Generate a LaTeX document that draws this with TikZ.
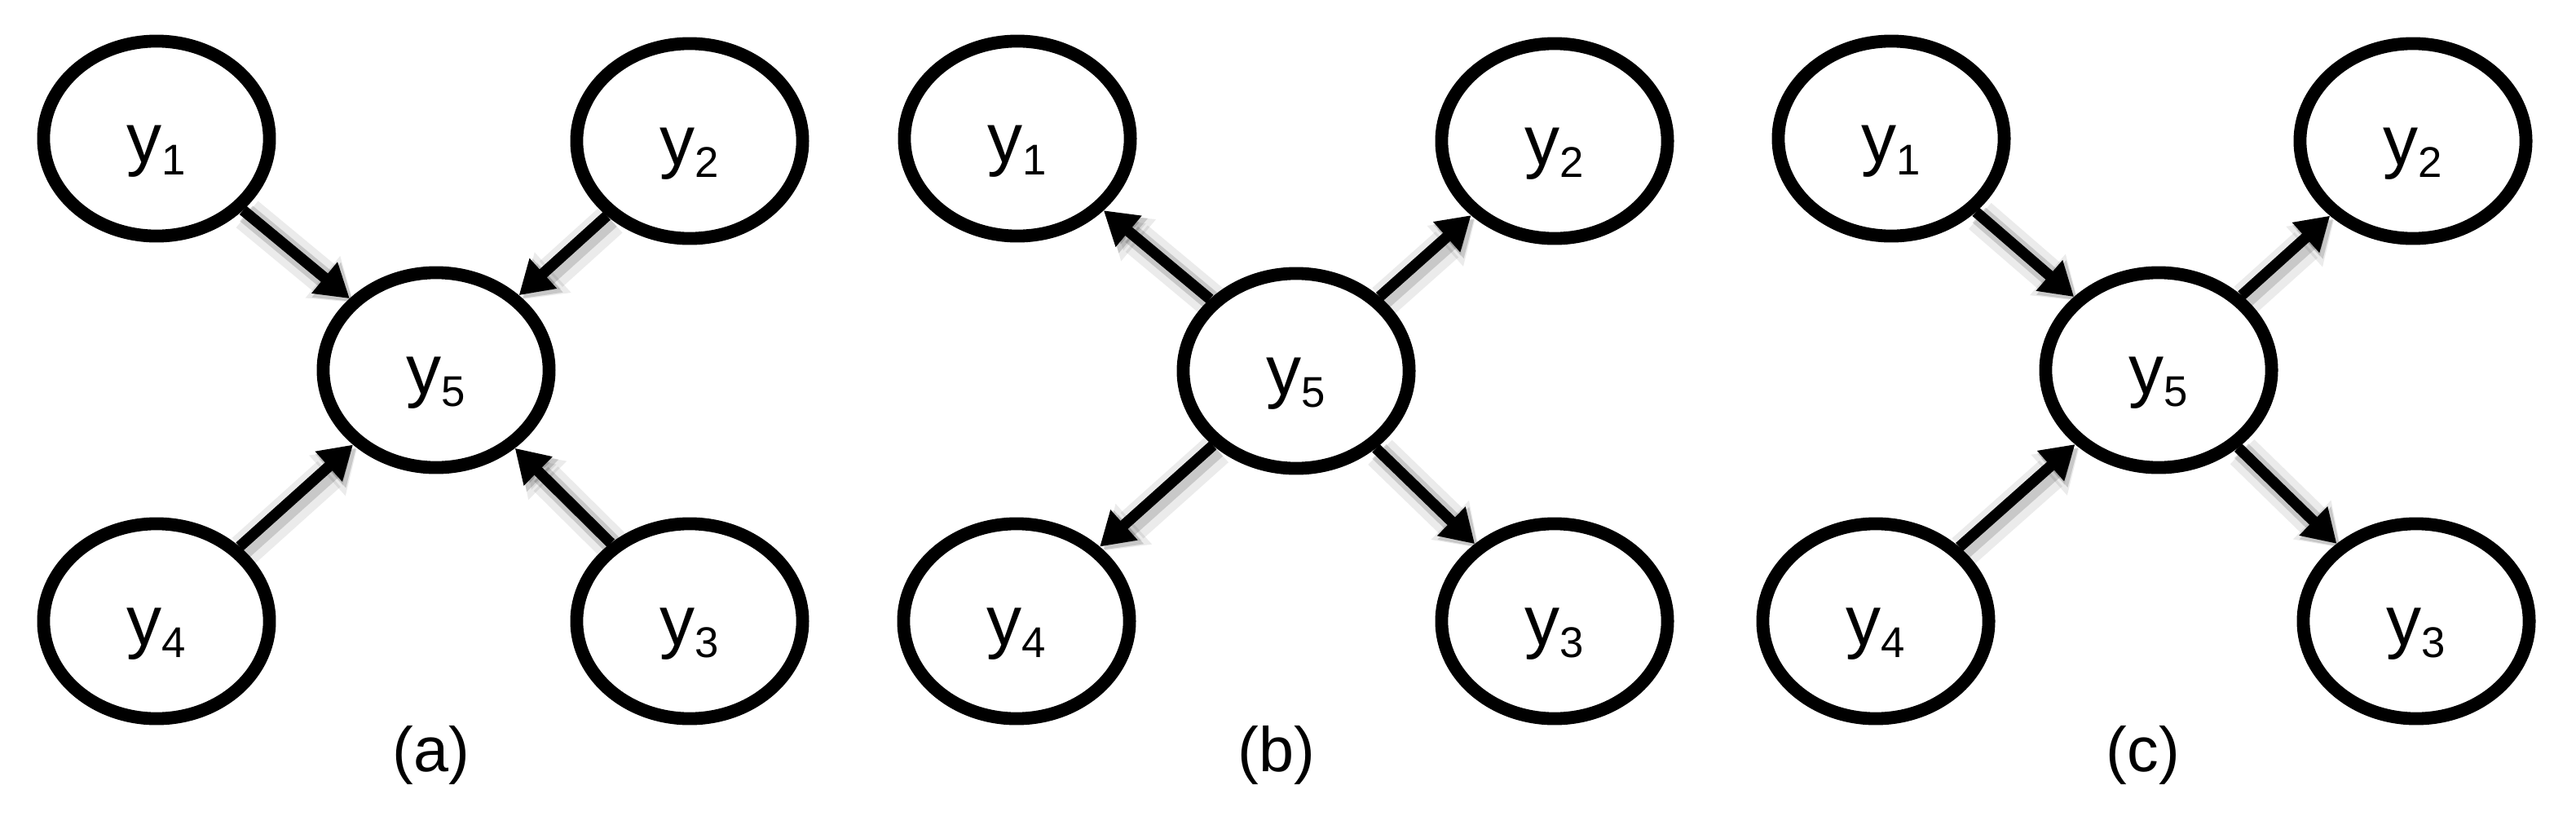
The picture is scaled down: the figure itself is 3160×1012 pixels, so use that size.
\documentclass[tikz,border=0pt]{standalone}
\usepackage{fontspec}
\setmainfont{Liberation Sans}
\usetikzlibrary{shapes.geometric,arrows.meta}
\newcommand{\yv}[1]{y\raisebox{-0.15cm}{\fontsize{15}{18}\selectfont #1}}
\tikzset{
  var/.style={ellipse, draw, line width=4.5pt, inner sep=0pt,
    minimum width=2.77cm, minimum height=2.39cm,
    font=\fontsize{24.5}{28}\selectfont, text height=0.76cm, text depth=0.18cm},
  arr/.style={line width=3.8pt, -{Triangle[length=11.4pt,width=13.4pt]},
    preaction={draw=black, opacity=0.08, line width=12pt, -{Triangle[length=14pt,width=18pt]},
      transform canvas={shift={(0.05cm,-0.05cm)}}},
    preaction={draw=black, opacity=0.15, line width=7pt, -{Triangle[length=12pt,width=15pt]},
      transform canvas={shift={(0.04cm,-0.04cm)}}}},
  panellabel/.style={font=\fontsize{22}{26}\selectfont}
}
\begin{document}
\begin{tikzpicture}[x=0.01cm,y=-0.01cm]
\useasboundingbox (0,0) rectangle (3160,1012);
% (a)
\node[var] (a1) at (192,170) {\yv{1}};
\node[var] (a2) at (846,173) {\yv{2}};
\node[var] (a5) at (535,454) {\yv{5}};
\node[var] (a4) at (192,762) {\yv{4}};
\node[var] (a3) at (846,762) {\yv{3}};
\node[panellabel] (la) at (529,926) {(a)};
\draw[arr] (a1) -- (a5);
\draw[arr] (a2) -- (a5);
\draw[arr] (a4) -- (a5);
\draw[arr] (a3) -- (a5);
% (b)
\node[var] (b1) at (1248,170) {\yv{1}};
\node[var] (b2) at (1907,173) {\yv{2}};
\node[var] (b5) at (1590,455) {\yv{5}};
\node[var] (b4) at (1247,762) {\yv{4}};
\node[var] (b3) at (1907,762) {\yv{3}};
\node[panellabel] (lb) at (1566,926) {(b)};
\draw[arr] (b5) -- (b1);
\draw[arr] (b5) -- (b2);
\draw[arr] (b5) -- (b4);
\draw[arr] (b5) -- (b3);
% (c)
\node[var] (c1) at (2320,170) {\yv{1}};
\node[var] (c2) at (2960,173) {\yv{2}};
\node[var] (c5) at (2648,454) {\yv{5}};
\node[var] (c4) at (2301,762) {\yv{4}};
\node[var] (c3) at (2964,762) {\yv{3}};
\node[panellabel] (lc) at (2629,926) {(c)};
\draw[arr] (c1) -- (c5);
\draw[arr] (c5) -- (c2);
\draw[arr] (c4) -- (c5);
\draw[arr] (c5) -- (c3);
\end{tikzpicture}
\end{document}
